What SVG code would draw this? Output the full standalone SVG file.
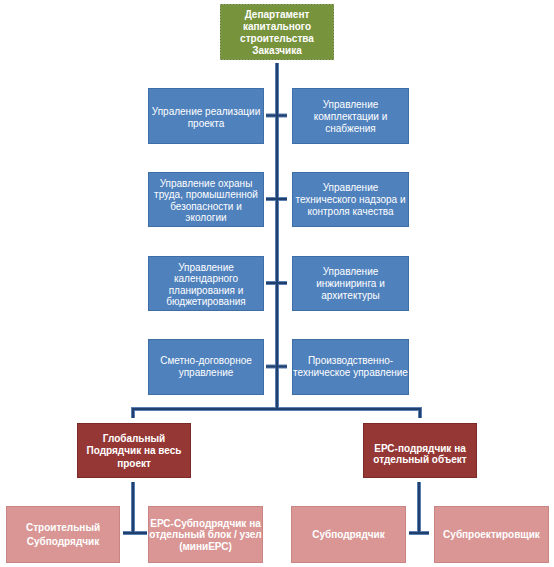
<svg xmlns="http://www.w3.org/2000/svg" width="554" height="567" viewBox="0 0 554 567">
<style>
.t{font-family:"Liberation Sans",Arial,sans-serif;font-size:10px;fill:#fff;text-anchor:middle}
.b{font-weight:bold}
.top{fill:#77933C;stroke:#5f7a2c;stroke-width:1;stroke-dasharray:2 1}
.blue{fill:#4F81BD;stroke:#3F6DA6;stroke-width:1}
.red{fill:#953735;stroke:#7B2A28;stroke-width:1}
.pink{fill:#D99694;stroke:#C98583;stroke-width:1}
.lo{fill:none;stroke:#5A7FB0;stroke-width:4}
.li{fill:none;stroke:#1F3F6E;stroke-width:2}
</style>
<rect width="554" height="567" fill="#fff"/>
<g id="connectors">
  <g class="lo">
    <path d="M277 63V409"/>
    <path d="M133 418V409H420V418"/>
    <path d="M266 115.5H287M266 199H287M266 283H287M266 366.5H287"/>
    <path d="M133 482V533M123 533H147"/>
    <path d="M419 482V533M409 533H429"/>
  </g>
  <g class="li">
    <path d="M277 63V409"/>
    <path d="M133 418V409H420V418"/>
    <path d="M266 115.5H287M266 199H287M266 283H287M266 366.5H287"/>
    <path d="M133 482V533M123 533H147"/>
    <path d="M419 482V533M409 533H429"/>
  </g>
</g>
<g id="n-top">
  <rect class="top" x="220.5" y="4.5" width="113" height="55"/>
  <text class="t b" x="277" y="17.5">Департамент</text>
  <text class="t b" x="277" y="29.5">капитального</text>
  <text class="t b" x="277" y="41.5">строительства</text>
  <text class="t b" x="277" y="53.5">Заказчика</text>
</g>
<g id="n-l1">
  <rect class="blue" x="148.5" y="88.5" width="115" height="55"/>
  <text class="t" x="206" y="114.5">Упраление реализации</text>
  <text class="t" x="206" y="126.5">проекта</text>
</g>
<g id="n-r1">
  <rect class="blue" x="292.5" y="88.5" width="116" height="55"/>
  <text class="t" x="350.5" y="107.5">Управление</text>
  <text class="t" x="350.5" y="119.5">комплектации и</text>
  <text class="t" x="350.5" y="131.5">снабжения</text>
</g>
<g id="n-l2">
  <rect class="blue" x="148.5" y="172.5" width="115" height="54"/>
  <text class="t" x="206" y="186.5">Управление охраны</text>
  <text class="t" x="206" y="198">труда, промышленной</text>
  <text class="t" x="206" y="209.5">безопасности и</text>
  <text class="t" x="206" y="221">экологии</text>
</g>
<g id="n-r2">
  <rect class="blue" x="292.5" y="172.5" width="116" height="54"/>
  <text class="t" x="350.5" y="190.5">Управление</text>
  <text class="t" x="350.5" y="202.5">технического надзора и</text>
  <text class="t" x="350.5" y="214.5">контроля качества</text>
</g>
<g id="n-l3">
  <rect class="blue" x="148.5" y="256.5" width="115" height="54"/>
  <text class="t" x="206" y="270.5">Управление</text>
  <text class="t" x="206" y="282">календарного</text>
  <text class="t" x="206" y="293.5">планирования и</text>
  <text class="t" x="206" y="305">бюджетирования</text>
</g>
<g id="n-r3">
  <rect class="blue" x="292.5" y="256.5" width="116" height="54"/>
  <text class="t" x="350.5" y="274.5">Управление</text>
  <text class="t" x="350.5" y="286.5">инжиниринга и</text>
  <text class="t" x="350.5" y="298.5">архитектуры</text>
</g>
<g id="n-l4">
  <rect class="blue" x="148.5" y="339.5" width="115" height="55"/>
  <text class="t" x="206" y="364">Сметно-договорное</text>
  <text class="t" x="206" y="376">управление</text>
</g>
<g id="n-r4">
  <rect class="blue" x="292.5" y="339.5" width="116" height="55"/>
  <text class="t" x="350.5" y="364">Производственно-</text>
  <text class="t" x="350.5" y="376">техническое управление</text>
</g>
<g id="n-global">
  <rect class="red" x="77.5" y="423.5" width="113" height="54"/>
  <text class="t b" x="134" y="441.5">Глобальный</text>
  <text class="t b" x="134" y="454">Подрядчик на весь</text>
  <text class="t b" x="134" y="466.5">проект</text>
</g>
<g id="n-epc">
  <rect class="red" x="363.5" y="423.5" width="113" height="54"/>
  <text class="t b" x="420" y="451.5">ЕРС-подрядчик на</text>
  <text class="t b" x="420" y="463">отдельный объект</text>
</g>
<g id="n-p1">
  <rect class="pink" x="6.5" y="506.5" width="113" height="56"/>
  <text class="t b" x="63" y="531">Строительный</text>
  <text class="t b" x="63" y="545">Субподрядчик</text>
</g>
<g id="n-p2">
  <rect class="pink" x="148.5" y="506.5" width="114" height="56"/>
  <text class="t b" x="205.5" y="526.5">ЕРС-Субподрядчик на</text>
  <text class="t b" x="205.5" y="538">отдельный блок / узел</text>
  <text class="t b" x="205.5" y="550">(миниЕРС)</text>
</g>
<g id="n-p3">
  <rect class="pink" x="291.5" y="506.5" width="114" height="56"/>
  <text class="t b" x="348.5" y="538">Субподрядчик</text>
</g>
<g id="n-p4">
  <rect class="pink" x="434.5" y="506.5" width="114" height="56"/>
  <text class="t b" x="491.5" y="538">Субпроектировщик</text>
</g>
</svg>
